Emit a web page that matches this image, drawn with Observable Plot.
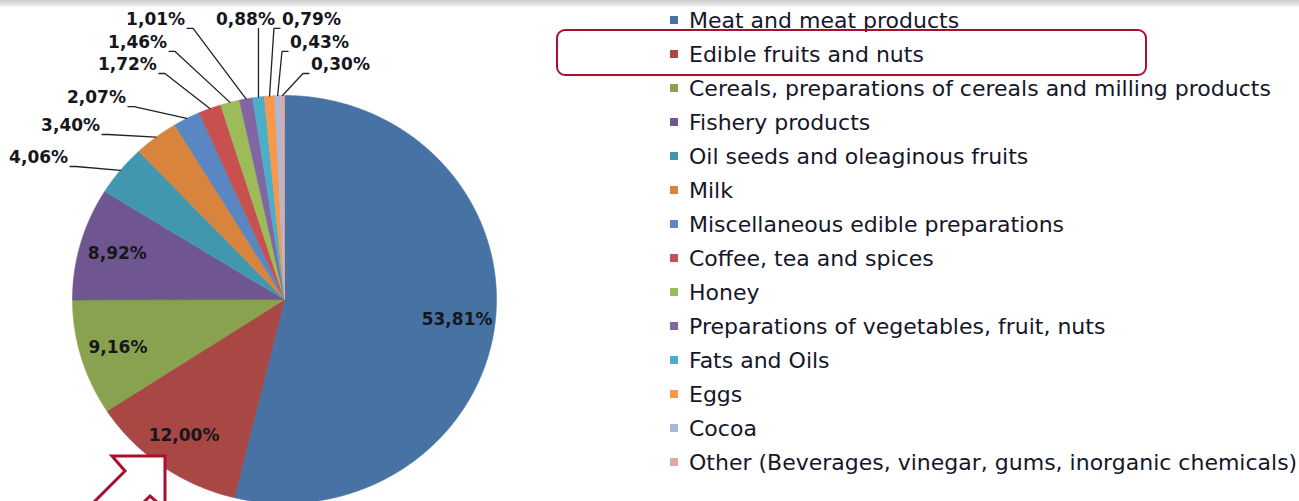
<!DOCTYPE html>
<html><head><meta charset="utf-8">
<script src="https://cdn.jsdelivr.net/npm/d3@7"></script>
<script src="https://cdn.jsdelivr.net/npm/@observablehq/plot@0.6"></script>
<style>
html,body{margin:0;padding:0;background:#fff;overflow:hidden}
#wrap{position:relative;width:1299px;height:501px;overflow:hidden;background:#fff}
#chart{position:absolute;left:0;top:0}
#topbar{position:absolute;left:0;top:0;width:1299px;height:7px;background:linear-gradient(#cdcdcd,#f4f4f4)}
#legend{position:absolute;left:670px;top:3px;width:700px}
#legend .leg-swatch{height:34px;padding:0;margin:0;color:#16162a}
#legend .leg-swatch svg{margin-right:11px}
#box{position:absolute;left:556px;top:29px;width:587px;height:43px;border:2.6px solid #a8102e;border-radius:9px}
#arrow{position:absolute;left:0;top:0}
</style></head>
<body>
<div id="wrap">
  <div id="chart"></div>
  <div id="topbar"></div>
  <div id="legend"></div>
  <div id="box"></div>
  <svg id="arrow" width="300" height="501"><polygon points="165,456 112,456 125,471 65,531 90,556 150,496 165,509" fill="#fff" stroke="#a8102e" stroke-width="3" stroke-linejoin="miter"/></svg>
</div>
<script>
// ---- data ----
const categories = [
  "Meat and meat products",
  "Edible fruits and nuts",
  "Cereals, preparations of cereals and milling products",
  "Fishery products",
  "Oil seeds and oleaginous fruits",
  "Milk",
  "Miscellaneous edible preparations",
  "Coffee, tea and spices",
  "Honey",
  "Preparations of vegetables, fruit, nuts",
  "Fats and Oils",
  "Eggs",
  "Cocoa",
  "Other (Beverages, vinegar, gums, inorganic chemicals)"
];
const shares = [53.81, 12.00, 9.16, 8.92, 4.06, 3.40, 2.07, 1.72, 1.46, 1.01, 0.88, 0.79, 0.43, 0.30];
const colors = ["#4672A4","#A84743","#89A24F","#6F5690","#4197AE","#D8843D","#5A87C2","#C8504E","#9CBC5A","#8265A3","#4BAFC8","#F7984A","#AAB9D7","#DCAAA9"];

// ---- layout (pie frame & manually placed outside labels, in pie-radius units) ----
const pieFrame = {cx: 284, cy: 299, rx: 212, ry: 204};
const insideRadius = 0.82;
const outsideLabelPos = [
  null, null, null, null,
  [-1.160, 0.696], [-1.009, 0.853], [-0.887, 0.990], [-0.741, 1.152],
  [-0.693, 1.260], [-0.608, 1.373], [-0.184, 1.373], [0.127, 1.373],
  [0.165, 1.260], [0.264, 1.152]
];

const fmt = v => v.toFixed(2).replace(".", ",") + "%";
const labelFont = "bold 17px 'DejaVu Sans'";
const ctx = document.createElement("canvas").getContext("2d");
ctx.font = labelFont;

const arcs = d3.pie().sort(null).value(d => d)(shares);
const {cx, cy, rx, ry} = pieFrame;

// slice polygons
const slicePts = [];
arcs.forEach((a, i) => {
  const cat = categories[i];
  slicePts.push({cat, x: 0, y: 0});
  const n = Math.max(2, Math.ceil((a.endAngle - a.startAngle) / 0.004));
  for (let k = 0; k <= n; k++) {
    const t = a.startAngle + (a.endAngle - a.startAngle) * k / n;
    slicePts.push({cat, x: Math.sin(t), y: Math.cos(t)});
  }
  slicePts.push({cat, x: 0, y: 0});
});

// labels + leaders
const labels = [];
const leaders = [];
arcs.forEach((a, i) => {
  const mid = (a.startAngle + a.endAngle) / 2;
  const text = fmt(shares[i]);
  const pos = outsideLabelPos[i];
  if (!pos) {
    labels.push({text, x: insideRadius * Math.sin(mid), y: insideRadius * Math.cos(mid)});
    return;
  }
  const [lx, ly] = pos;
  labels.push({text, x: lx, y: ly});
  const hw = ctx.measureText(text).width / 2 / rx;
  const ex = Math.sin(mid), ey = Math.cos(mid);
  const sy = ly - 9 / ry;
  let pts;
  if (ex < lx - hw) {
    const sx = lx - hw - 2 / rx;
    pts = [[sx, sy], [sx - 6 / rx, sy], [ex, ey]];
  } else if (ex > lx + hw) {
    const sx = lx + hw + 2 / rx;
    pts = [[sx, sy], [sx + 6 / rx, sy], [ex, ey]];
  } else {
    pts = [[ex, sy], [ex, ey]];
  }
  pts.forEach(([x, y]) => leaders.push({id: i, x, y}));
});

const chart = Plot.plot({
  width: 1299, height: 501, margin: 0,
  style: {background: "transparent", overflow: "visible"},
  x: {type: "linear", domain: [-1, 1], range: [cx - rx, cx + rx], axis: null},
  y: {type: "linear", domain: [-1, 1], range: [cy + ry, cy - ry], axis: null},
  color: {type: "ordinal", domain: categories, range: colors},
  marks: [
    Plot.line(slicePts, {x: "x", y: "y", z: "cat", fill: "cat", stroke: "cat", strokeWidth: 0.6, curve: "linear"}),
    Plot.line(leaders, {x: "x", y: "y", z: "id", stroke: "#222", strokeWidth: 1.3}),
    Plot.text(labels, {x: "x", y: "y", text: "text", fill: "#16161e", fontSize: 17, fontWeight: "bold", fontFamily: "DejaVu Sans", textAnchor: "middle", lineAnchor: "middle"})
  ]
});
document.getElementById("chart").appendChild(chart);

const legend = Plot.legend({
  color: {type: "ordinal", domain: categories, range: colors},
  legend: "swatches", columns: 1, swatchSize: 8, className: "leg",
  style: {fontFamily: "'DejaVu Sans'", fontSize: "22px", color: "#16162a", margin: "0"}
});
document.getElementById("legend").appendChild(legend);
</script>
</body></html>
